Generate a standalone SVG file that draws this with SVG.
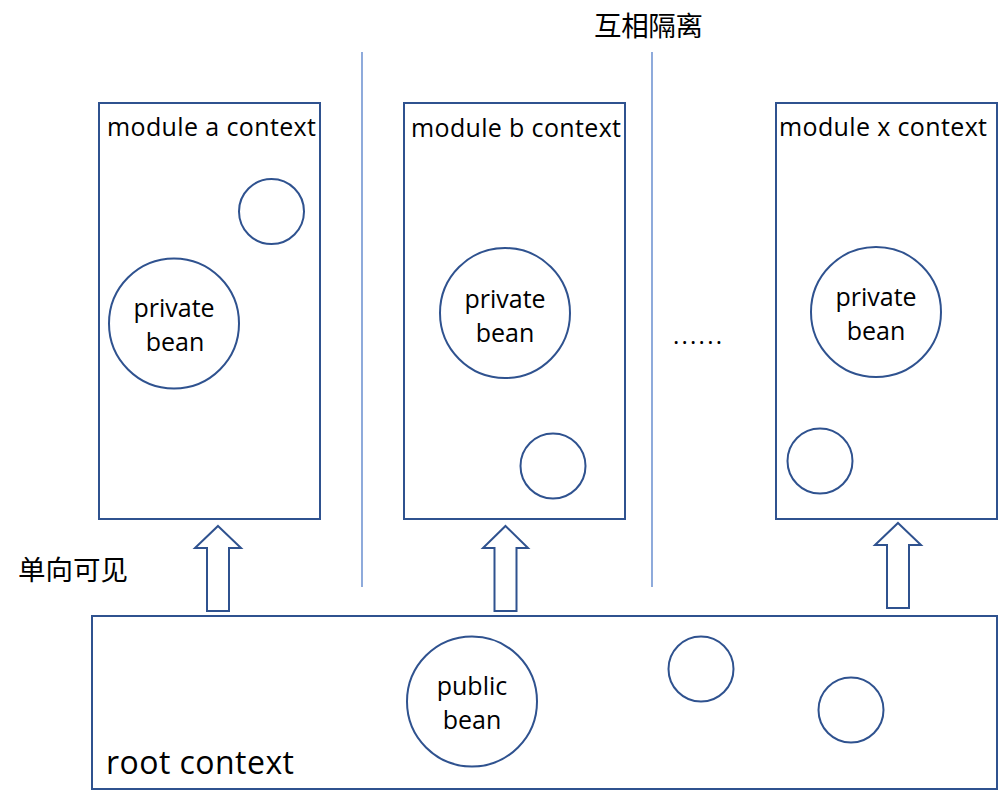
<svg xmlns="http://www.w3.org/2000/svg" width="1006" height="806" viewBox="0 0 1006 806">
<style>
.box{fill:#fff;stroke:#2F528F;stroke-width:2}
.bean{fill:#fff;stroke:#2F528F;stroke-width:2}
.arrow{fill:#fff;stroke:#2F528F;stroke-width:2;stroke-linejoin:miter}
.divider{stroke:#4472C4;stroke-width:1.2;fill:none}
.t{font-family:"Open Sans","Noto Sans","Noto Sans CJK SC",sans-serif;fill:#000}
.lbl{font-size:25px}
.bl{font-size:25px;text-anchor:middle}
.cjk{font-family:"Noto Sans CJK SC","Noto Sans",sans-serif;font-size:27.5px;fill:#000}
</style>
<rect width="1006" height="806" fill="#fff"/>
<g id="dividers">
<line class="divider" x1="362" y1="52" x2="362" y2="587"/>
<line class="divider" x1="652" y1="52" x2="652" y2="587"/>
</g>
<text class="cjk" x="594" y="36" textLength="109" lengthAdjust="spacing">互相隔离</text>
<text class="cjk" x="18" y="580" textLength="110" lengthAdjust="spacing">单向可见</text>
<g id="module-a">
<rect class="box" x="99" y="103" width="221" height="416"/>
<text class="t lbl" x="107" y="136" textLength="209" lengthAdjust="spacing">module a context</text>
<circle class="bean" cx="271.5" cy="211.5" r="32.5"/>
<circle class="bean" cx="174" cy="323.5" r="65"/>
<text class="t bl" x="174" y="317">private</text>
<text class="t bl" x="175" y="351">bean</text>
</g>
<g id="module-b">
<rect class="box" x="404" y="103" width="221" height="416"/>
<text class="t lbl" x="411" y="137" textLength="210" lengthAdjust="spacing">module b context</text>
<circle class="bean" cx="505" cy="313" r="65"/>
<text class="t bl" x="505" y="308">private</text>
<text class="t bl" x="505" y="342">bean</text>
<circle class="bean" cx="553" cy="466" r="32.5"/>
</g>
<g id="ellipsis">
<text class="t" x="673" y="344" font-size="24" textLength="49" lengthAdjust="spacing">......</text>
</g>
<g id="module-x">
<rect class="box" x="776" y="103" width="221" height="416"/>
<text class="t lbl" x="779" y="136" textLength="208" lengthAdjust="spacing">module x context</text>
<circle class="bean" cx="876" cy="312" r="65"/>
<text class="t bl" x="876" y="306">private</text>
<text class="t bl" x="876" y="340">bean</text>
<circle class="bean" cx="820" cy="461" r="32.5"/>
</g>
<g id="root">
<rect class="box" x="92" y="616" width="905" height="173"/>
<text class="t" x="106" y="774" font-size="32" textLength="188" lengthAdjust="spacing">root context</text>
<circle class="bean" cx="472" cy="701.5" r="65"/>
<text class="t bl" x="472" y="695">public</text>
<text class="t bl" x="472" y="729">bean</text>
<circle class="bean" cx="701" cy="669" r="32.5"/>
<circle class="bean" cx="851" cy="710" r="32.5"/>
</g>
<g id="connectors">
<polygon class="arrow" points="218,526 241,548 229,548 229,611 207,611 207,548 195,548"/>
<polygon class="arrow" points="505.5,526 528,548 516.5,548 516.5,611 494.5,611 494.5,548 483,548"/>
<polygon class="arrow" points="898,523 921,545 909,545 909,608 887,608 887,545 875,545"/>
</g>
</svg>
